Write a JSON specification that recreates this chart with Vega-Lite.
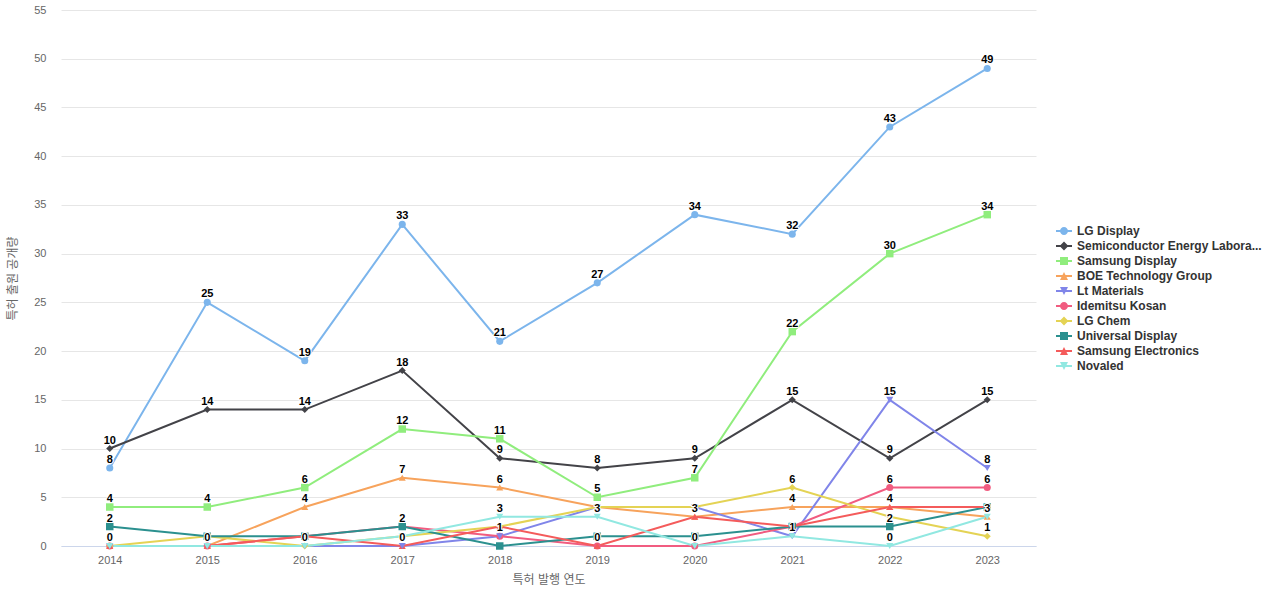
{
  "$schema": "https://vega.github.io/schema/vega-lite/v6.json",
  "width": 975,
  "height": 536,
  "autosize": {"type": "none"},
  "padding": {"left": 61, "top": 10, "right": 244, "bottom": 54},
  "background": "#ffffff",
  "config": {
    "view": {"stroke": null},
    "font": "'Liberation Sans', 'Noto Sans CJK KR', sans-serif"
  },
  "data": {
    "values": [
      {"series": "LG Display", "year": "2014", "value": 8},
      {"series": "LG Display", "year": "2015", "value": 25},
      {"series": "LG Display", "year": "2016", "value": 19},
      {"series": "LG Display", "year": "2017", "value": 33},
      {"series": "LG Display", "year": "2018", "value": 21},
      {"series": "LG Display", "year": "2019", "value": 27},
      {"series": "LG Display", "year": "2020", "value": 34},
      {"series": "LG Display", "year": "2021", "value": 32},
      {"series": "LG Display", "year": "2022", "value": 43},
      {"series": "LG Display", "year": "2023", "value": 49},
      {"series": "Semiconductor Energy Laboratory", "year": "2014", "value": 10},
      {"series": "Semiconductor Energy Laboratory", "year": "2015", "value": 14},
      {"series": "Semiconductor Energy Laboratory", "year": "2016", "value": 14},
      {"series": "Semiconductor Energy Laboratory", "year": "2017", "value": 18},
      {"series": "Semiconductor Energy Laboratory", "year": "2018", "value": 9},
      {"series": "Semiconductor Energy Laboratory", "year": "2019", "value": 8},
      {"series": "Semiconductor Energy Laboratory", "year": "2020", "value": 9},
      {"series": "Semiconductor Energy Laboratory", "year": "2021", "value": 15},
      {"series": "Semiconductor Energy Laboratory", "year": "2022", "value": 9},
      {"series": "Semiconductor Energy Laboratory", "year": "2023", "value": 15},
      {"series": "Samsung Display", "year": "2014", "value": 4},
      {"series": "Samsung Display", "year": "2015", "value": 4},
      {"series": "Samsung Display", "year": "2016", "value": 6},
      {"series": "Samsung Display", "year": "2017", "value": 12},
      {"series": "Samsung Display", "year": "2018", "value": 11},
      {"series": "Samsung Display", "year": "2019", "value": 5},
      {"series": "Samsung Display", "year": "2020", "value": 7},
      {"series": "Samsung Display", "year": "2021", "value": 22},
      {"series": "Samsung Display", "year": "2022", "value": 30},
      {"series": "Samsung Display", "year": "2023", "value": 34},
      {"series": "BOE Technology Group", "year": "2014", "value": 0},
      {"series": "BOE Technology Group", "year": "2015", "value": 0},
      {"series": "BOE Technology Group", "year": "2016", "value": 4},
      {"series": "BOE Technology Group", "year": "2017", "value": 7},
      {"series": "BOE Technology Group", "year": "2018", "value": 6},
      {"series": "BOE Technology Group", "year": "2019", "value": 4},
      {"series": "BOE Technology Group", "year": "2020", "value": 3},
      {"series": "BOE Technology Group", "year": "2021", "value": 4},
      {"series": "BOE Technology Group", "year": "2022", "value": 4},
      {"series": "BOE Technology Group", "year": "2023", "value": 3},
      {"series": "Lt Materials", "year": "2014", "value": 0},
      {"series": "Lt Materials", "year": "2015", "value": 0},
      {"series": "Lt Materials", "year": "2016", "value": 0},
      {"series": "Lt Materials", "year": "2017", "value": 0},
      {"series": "Lt Materials", "year": "2018", "value": 1},
      {"series": "Lt Materials", "year": "2019", "value": 4},
      {"series": "Lt Materials", "year": "2020", "value": 4},
      {"series": "Lt Materials", "year": "2021", "value": 1},
      {"series": "Lt Materials", "year": "2022", "value": 15},
      {"series": "Lt Materials", "year": "2023", "value": 8},
      {"series": "Idemitsu Kosan", "year": "2014", "value": 0},
      {"series": "Idemitsu Kosan", "year": "2015", "value": 0},
      {"series": "Idemitsu Kosan", "year": "2016", "value": 1},
      {"series": "Idemitsu Kosan", "year": "2017", "value": 2},
      {"series": "Idemitsu Kosan", "year": "2018", "value": 1},
      {"series": "Idemitsu Kosan", "year": "2019", "value": 0},
      {"series": "Idemitsu Kosan", "year": "2020", "value": 0},
      {"series": "Idemitsu Kosan", "year": "2021", "value": 2},
      {"series": "Idemitsu Kosan", "year": "2022", "value": 6},
      {"series": "Idemitsu Kosan", "year": "2023", "value": 6},
      {"series": "LG Chem", "year": "2014", "value": 0},
      {"series": "LG Chem", "year": "2015", "value": 1},
      {"series": "LG Chem", "year": "2016", "value": 0},
      {"series": "LG Chem", "year": "2017", "value": 1},
      {"series": "LG Chem", "year": "2018", "value": 2},
      {"series": "LG Chem", "year": "2019", "value": 4},
      {"series": "LG Chem", "year": "2020", "value": 4},
      {"series": "LG Chem", "year": "2021", "value": 6},
      {"series": "LG Chem", "year": "2022", "value": 3},
      {"series": "LG Chem", "year": "2023", "value": 1},
      {"series": "Universal Display", "year": "2014", "value": 2},
      {"series": "Universal Display", "year": "2015", "value": 1},
      {"series": "Universal Display", "year": "2016", "value": 1},
      {"series": "Universal Display", "year": "2017", "value": 2},
      {"series": "Universal Display", "year": "2018", "value": 0},
      {"series": "Universal Display", "year": "2019", "value": 1},
      {"series": "Universal Display", "year": "2020", "value": 1},
      {"series": "Universal Display", "year": "2021", "value": 2},
      {"series": "Universal Display", "year": "2022", "value": 2},
      {"series": "Universal Display", "year": "2023", "value": 4},
      {"series": "Samsung Electronics", "year": "2014", "value": 0},
      {"series": "Samsung Electronics", "year": "2015", "value": 0},
      {"series": "Samsung Electronics", "year": "2016", "value": 1},
      {"series": "Samsung Electronics", "year": "2017", "value": 0},
      {"series": "Samsung Electronics", "year": "2018", "value": 2},
      {"series": "Samsung Electronics", "year": "2019", "value": 0},
      {"series": "Samsung Electronics", "year": "2020", "value": 3},
      {"series": "Samsung Electronics", "year": "2021", "value": 2},
      {"series": "Samsung Electronics", "year": "2022", "value": 4},
      {"series": "Samsung Electronics", "year": "2023", "value": 4},
      {"series": "Novaled", "year": "2014", "value": 0},
      {"series": "Novaled", "year": "2015", "value": 0},
      {"series": "Novaled", "year": "2016", "value": 0},
      {"series": "Novaled", "year": "2017", "value": 1},
      {"series": "Novaled", "year": "2018", "value": 3},
      {"series": "Novaled", "year": "2019", "value": 3},
      {"series": "Novaled", "year": "2020", "value": 0},
      {"series": "Novaled", "year": "2021", "value": 1},
      {"series": "Novaled", "year": "2022", "value": 0},
      {"series": "Novaled", "year": "2023", "value": 3}
    ]
  },
  "encoding": {
    "x": {
      "field": "year",
      "type": "ordinal",
      "scale": {"type": "point", "padding": 0.5},
      "axis": {
        "title": "특허 발행 연도",
        "titleFontSize": 12,
        "titleFontWeight": "normal",
        "titleColor": "#666666",
        "titlePadding": 9,
        "labelAngle": 0,
        "labelFontSize": 11,
        "labelColor": "#666666",
        "labelPadding": 8,
        "ticks": false,
        "tickSize": 0,
        "domainColor": "#ccd6eb",
        "domainWidth": 1,
        "grid": false
      }
    },
    "y": {
      "field": "value",
      "type": "quantitative",
      "scale": {"domain": [0, 55], "nice": false, "zero": true},
      "axis": {
        "values": [0, 5, 10, 15, 20, 25, 30, 35, 40, 45, 50, 55],
        "title": "특허 출원 공개량",
        "titleFontSize": 12,
        "titleFontWeight": "normal",
        "titleColor": "#666666",
        "titleX": -42,
        "labelFontSize": 11,
        "labelColor": "#666666",
        "labelPadding": 15,
        "ticks": false,
        "tickSize": 0,
        "domain": false,
        "grid": true,
        "gridColor": "#e6e6e6",
        "gridWidth": 1
      }
    },
    "color": {
      "field": "series",
      "type": "nominal",
      "scale": {
        "domain": ["LG Display", "Semiconductor Energy Laboratory", "Samsung Display", "BOE Technology Group", "Lt Materials", "Idemitsu Kosan", "LG Chem", "Universal Display", "Samsung Electronics", "Novaled"],
        "range": ["#7cb5ec", "#434348", "#90ed7d", "#f7a35c", "#8085e9", "#f15c80", "#e4d354", "#2b908f", "#f45b5b", "#91e8e1"]
      },
      "legend": {
        "title": null,
        "orient": "none",
        "legendX": 995,
        "legendY": 213,
        "labelFontSize": 12,
        "labelFontWeight": "bold",
        "labelColor": "#333333",
        "labelOffset": 5,
        "labelLimit": 400,
        "labelExpr": "length(datum.label) > 30 ? substring(datum.label, 0, 27) + '...' : datum.label",
        "symbolSize": 256,
        "rowPadding": 1,
        "padding": 0,
        "encode": {
          "symbols": {
            "update": {
              "shape": {"signal": "['M-1,-0.125H1V0.125H-1Z M0.5,0A0.5,0.5 0 1,1 -0.5,0A0.5,0.5 0 1,1 0.5,0Z', 'M-1,-0.125H1V0.125H-1Z M0,-0.55L0.55,0L0,0.55L-0.55,0Z', 'M-1,-0.125H1V0.125H-1Z M-0.5,-0.5H0.5V0.5H-0.5Z', 'M-1,-0.125H1V0.125H-1Z M0,-0.5L0.5,0.5H-0.5Z', 'M-1,-0.125H1V0.125H-1Z M-0.5,-0.5H0.5L0,0.5Z'][indexof(['LG Display', 'Semiconductor Energy Laboratory', 'Samsung Display', 'BOE Technology Group', 'Lt Materials', 'Idemitsu Kosan', 'LG Chem', 'Universal Display', 'Samsung Electronics', 'Novaled'], datum.value) % 5]"},
              "fill": {"scale": "color", "field": "value"},
              "fillOpacity": {"value": 1},
              "stroke": {"value": "transparent"},
              "strokeWidth": {"value": 0},
              "size": {"value": 256}
            }
          }
        }
      }
    }
  },
  "layer": [
    {
      "mark": {"type": "line", "strokeWidth": 2}
    },
    {
      "transform": [{"filter": "datum.series === 'LG Display' || datum.series === 'Idemitsu Kosan'"}],
      "mark": {"type": "point", "shape": "circle", "filled": true, "size": 50, "opacity": 1, "strokeWidth": 0}
    },
    {
      "transform": [{"filter": "datum.series === 'Semiconductor Energy Laboratory' || datum.series === 'LG Chem'"}],
      "mark": {"type": "point", "shape": "diamond", "filled": true, "size": 50, "opacity": 1, "strokeWidth": 0}
    },
    {
      "transform": [{"filter": "datum.series === 'Samsung Display' || datum.series === 'Universal Display'"}],
      "mark": {"type": "point", "shape": "square", "filled": true, "size": 56, "opacity": 1, "strokeWidth": 0}
    },
    {
      "transform": [{"filter": "datum.series === 'BOE Technology Group' || datum.series === 'Samsung Electronics'"}],
      "mark": {"type": "point", "shape": "triangle-up", "filled": true, "size": 50, "opacity": 1, "strokeWidth": 0}
    },
    {
      "transform": [{"filter": "datum.series === 'Lt Materials' || datum.series === 'Novaled'"}],
      "mark": {"type": "point", "shape": "triangle-down", "filled": true, "size": 50, "opacity": 1, "strokeWidth": 0}
    },
    {
      "transform": [
        {"filter": "indexof(['LG Display|2014','Semiconductor Energy Laboratory|2014','Samsung Display|2014','Universal Display|2014','Novaled|2014','LG Display|2015','Semiconductor Energy Laboratory|2015','Samsung Display|2015','Novaled|2015','LG Display|2016','Semiconductor Energy Laboratory|2016','Samsung Display|2016','BOE Technology Group|2016','Novaled|2016','LG Display|2017','Semiconductor Energy Laboratory|2017','Samsung Display|2017','BOE Technology Group|2017','Universal Display|2017','Samsung Electronics|2017','LG Display|2018','Semiconductor Energy Laboratory|2018','Samsung Display|2018','BOE Technology Group|2018','Novaled|2018','Idemitsu Kosan|2018','LG Display|2019','Semiconductor Energy Laboratory|2019','Samsung Display|2019','Novaled|2019','Samsung Electronics|2019','LG Display|2020','Semiconductor Energy Laboratory|2020','Samsung Display|2020','BOE Technology Group|2020','Novaled|2020','LG Display|2021','Semiconductor Energy Laboratory|2021','Samsung Display|2021','LG Chem|2021','BOE Technology Group|2021','Novaled|2021','LG Display|2022','Semiconductor Energy Laboratory|2022','Samsung Display|2022','Lt Materials|2022','Idemitsu Kosan|2022','Samsung Electronics|2022','Universal Display|2022','Novaled|2022','LG Display|2023','Semiconductor Energy Laboratory|2023','Samsung Display|2023','Lt Materials|2023','Idemitsu Kosan|2023','Novaled|2023','LG Chem|2023'], datum.series + '|' + datum.year) >= 0"}
      ],
      "layer": [
        {
          "mark": {"type": "text", "fontSize": 11, "fontWeight": "bold", "baseline": "alphabetic", "dy": -5, "stroke": "#ffffff", "strokeWidth": 2, "strokeJoin": "round"},
          "encoding": {"text": {"field": "value", "type": "quantitative"}, "color": {"value": "#ffffff"}}
        },
        {
          "mark": {"type": "text", "fontSize": 11, "fontWeight": "bold", "baseline": "alphabetic", "dy": -5},
          "encoding": {"text": {"field": "value", "type": "quantitative"}, "color": {"value": "#000000"}}
        }
      ]
    }
  ]
}
